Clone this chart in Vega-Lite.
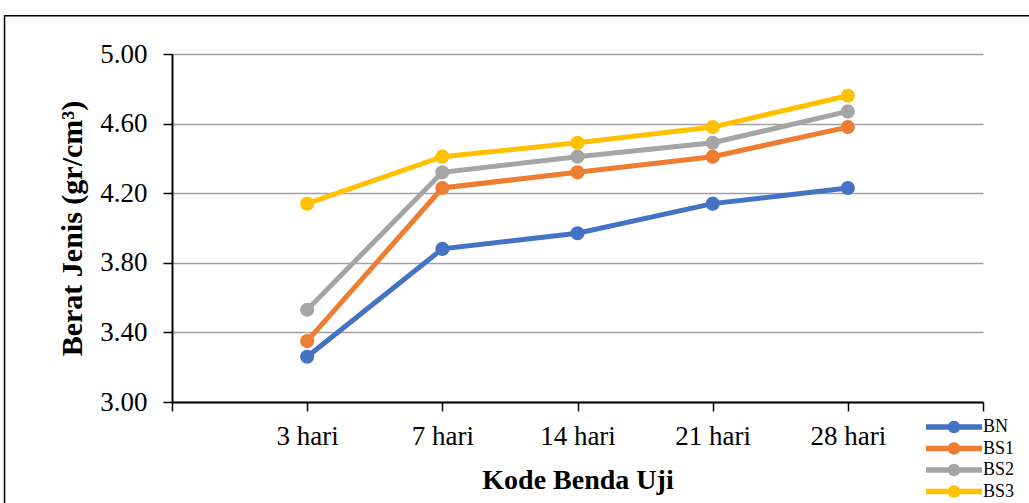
{
  "$schema": "https://vega.github.io/schema/vega-lite/v6.json",
  "width": 811,
  "height": 348,
  "autosize": {"type": "none"},
  "padding": {"left": 172, "top": 54, "right": 46, "bottom": 101},
  "background": "white",
  "config": {
    "view": {"stroke": null},
    "font": "Liberation Serif"
  },
  "datasets": {
    "frame": [{"x1": -0.2065, "x2": 1.1, "y1": 5.22, "y2": 2.4}]
  },
  "layer": [
    {
      "data": {"name": "frame"},
      "mark": {"type": "rect", "fill": null, "stroke": "black", "strokeWidth": 1.5, "clip": false},
      "encoding": {
        "x": {"field": "x1", "type": "quantitative", "scale": {"domain": [0, 1]}, "axis": null},
        "x2": {"field": "x2"},
        "y": {"field": "y1", "type": "quantitative", "scale": {"domain": [3, 5]}, "axis": null},
        "y2": {"field": "y2"}
      }
    },
    {
      "data": {
        "values": [
          {"kode": "3 hari", "seri": "BN", "nilai": 3.26},
          {"kode": "7 hari", "seri": "BN", "nilai": 3.88},
          {"kode": "14 hari", "seri": "BN", "nilai": 3.97},
          {"kode": "21 hari", "seri": "BN", "nilai": 4.14},
          {"kode": "28 hari", "seri": "BN", "nilai": 4.23},
          {"kode": "3 hari", "seri": "BS1", "nilai": 3.35},
          {"kode": "7 hari", "seri": "BS1", "nilai": 4.23},
          {"kode": "14 hari", "seri": "BS1", "nilai": 4.32},
          {"kode": "21 hari", "seri": "BS1", "nilai": 4.41},
          {"kode": "28 hari", "seri": "BS1", "nilai": 4.58},
          {"kode": "3 hari", "seri": "BS2", "nilai": 3.53},
          {"kode": "7 hari", "seri": "BS2", "nilai": 4.32},
          {"kode": "14 hari", "seri": "BS2", "nilai": 4.41},
          {"kode": "21 hari", "seri": "BS2", "nilai": 4.49},
          {"kode": "28 hari", "seri": "BS2", "nilai": 4.67},
          {"kode": "3 hari", "seri": "BS3", "nilai": 4.14},
          {"kode": "7 hari", "seri": "BS3", "nilai": 4.41},
          {"kode": "14 hari", "seri": "BS3", "nilai": 4.49},
          {"kode": "21 hari", "seri": "BS3", "nilai": 4.58},
          {"kode": "28 hari", "seri": "BS3", "nilai": 4.76}
        ]
      },
      "encoding": {
        "x": {
          "field": "kode",
          "type": "ordinal",
          "scale": {"type": "point", "padding": 0, "domain": [" ", "3 hari", "7 hari", "14 hari", "21 hari", "28 hari", "  "]},
          "axis": {
            "title": "Kode Benda Uji",
            "labelAngle": 0,
            "labelFont": "Liberation Serif",
            "labelFontSize": 27,
            "labelColor": "black",
            "labelPadding": 12,
            "tickSize": 9,
            "tickColor": "black",
            "tickWidth": 1.5,
            "domainColor": "black",
            "domainWidth": 2,
            "grid": false,
            "titleFont": "Liberation Serif",
            "titleFontSize": 28,
            "titleFontWeight": "bold",
            "titleColor": "black",
            "titlePadding": 17,
            "encode": {"ticks": {"update": {"y2": {"value": -9}}}}
          }
        },
        "y": {
          "field": "nilai",
          "type": "quantitative",
          "scale": {"domain": [3, 5]},
          "axis": {
            "title": "Berat Jenis (gr/cm³)",
            "values": [3, 3.4, 3.8, 4.2, 4.6, 5],
            "format": ".2f",
            "labelFont": "Liberation Serif",
            "labelFontSize": 27,
            "labelColor": "black",
            "labelPadding": 16,
            "tickSize": 9,
            "tickColor": "black",
            "tickWidth": 1.5,
            "domainColor": "black",
            "domainWidth": 2,
            "grid": true,
            "gridColor": "#a0a0a0",
            "gridWidth": 1.5,
            "titleFont": "Liberation Serif",
            "titleFontSize": 30,
            "titleFontWeight": "bold",
            "titleColor": "black",
            "titlePadding": 12
          }
        },
        "color": {
          "field": "seri",
          "type": "nominal",
          "scale": {"domain": ["BN", "BS1", "BS2", "BS3"], "range": ["#4472C4", "#ED7D31", "#A5A5A5", "#FFC000"]},
          "legend": {
            "title": null,
            "orient": "none",
            "legendX": 772,
            "legendY": 363,
            "padding": 0,
            "symbolType": "M-2.8,-0.27L2.8,-0.27L2.8,0.27L-2.8,0.27Z M0.62,0 A0.62,0.62 0 1 1 -0.62,0 A0.62,0.62 0 1 1 0.62,0 Z",
            "symbolSize": 400,
            "symbolStrokeWidth": 0,
            "labelFont": "Liberation Serif",
            "labelFontSize": 18,
            "labelColor": "black",
            "labelOffset": 19,
            "rowPadding": 2.5,
            "encode": {
              "symbols": {"update": {"fill": {"scale": "color", "field": "value"}, "strokeWidth": {"value": 0}, "opacity": {"value": 1}}}
            }
          }
        }
      },
      "layer": [
        {"mark": {"type": "line", "strokeWidth": 5}},
        {"mark": {"type": "point", "filled": true, "size": 200, "opacity": 1}}
      ]
    }
  ],
  "resolve": {"scale": {"x": "independent"}, "axis": {"x": "independent", "y": "independent"}}
}
